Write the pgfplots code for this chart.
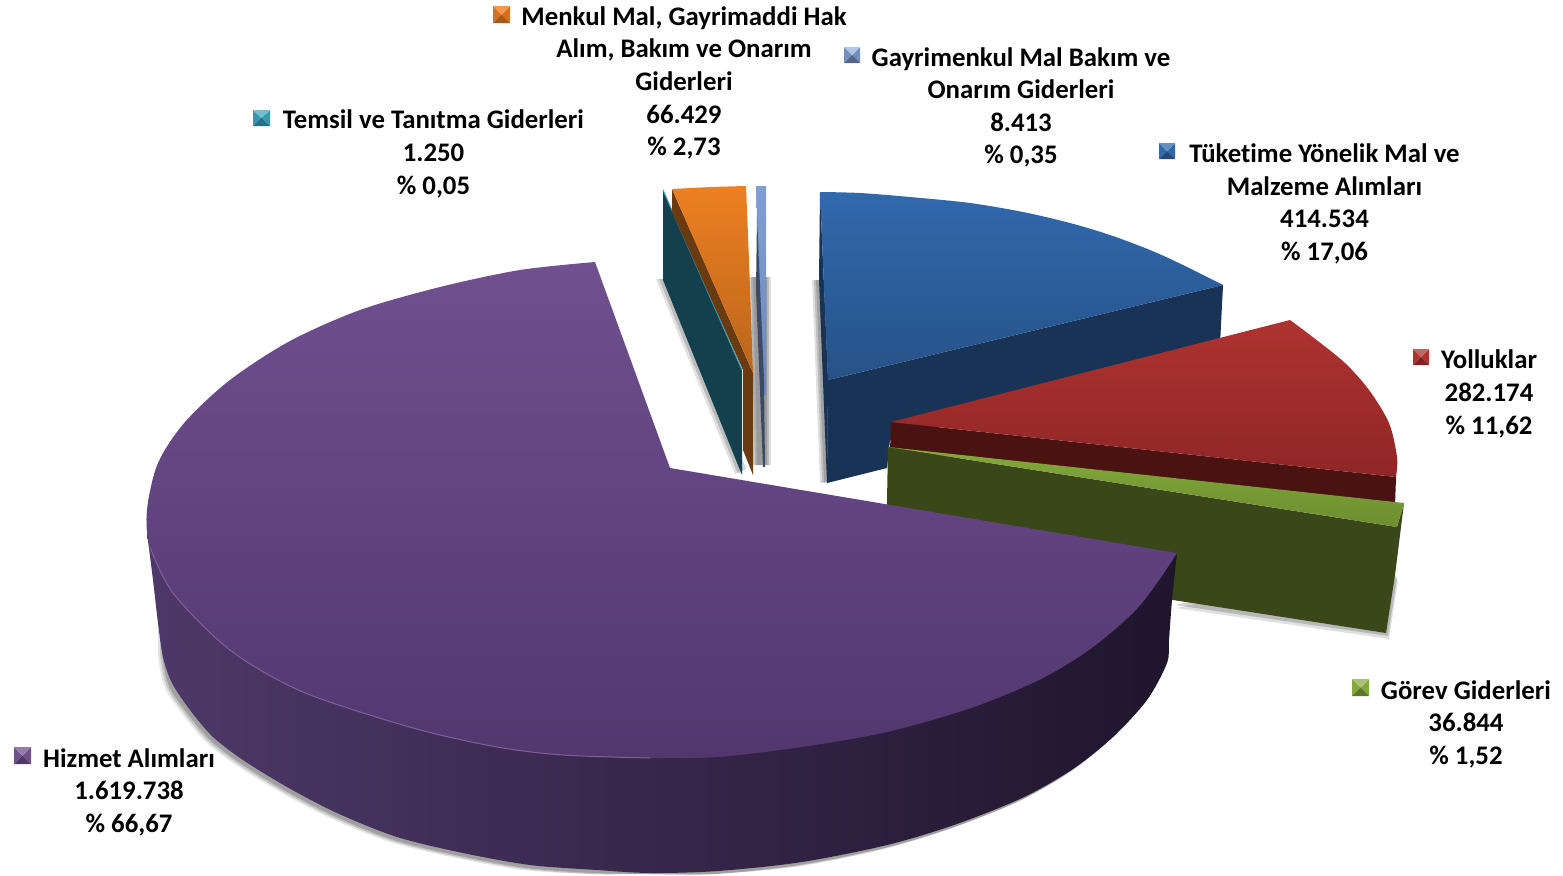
\documentclass[border=0pt]{standalone}
\usepackage{fontspec}
\setmainfont[Ligatures=NoCommon]{Carlito}
\usepackage{pgfplots}
\usepackage{pgfplotstable}
\pgfplotsset{compat=1.18}
\pgfplotstableread{
x y
1177 553
1172 600
1169 640
1167 663
1147 700
1113 737
1073 769
1022 798
954 825
887 845
802 862
718 871
650 873
597 870
530 865
463 853
397 837
337 813
287 787
243 760
213 737
190 710
172 683
163 657
158 623
153 580
147 533
}\purpleside
\pgfplotstableread{
x y
1177 553
1172 600
1169 640
1167 663
1147 700
1113 737
1073 769
1022 798
954 825
887 845
802 862
718 871
650 873
597 870
530 865
463 853
397 837
337 813
287 787
243 760
213 737
190 710
172 683
165 650
166 610
}\purpleshadow
\pgfplotstableread{
x y
595 262
520 270
440 287
360 310
290 341
230 380
185 422
158 463
147 510
150 547
173 593
230 650
303 692
413 728
497 747
563 755
650 758
718 757
802 747
887 732
971 708
1039 680
1089 650
1133 613
1157 583
1177 553
}\purpletop
\pgfplotstableread{
x y
150 547
173 593
230 650
303 692
413 728
497 747
563 755
650 758
}\purplerim
\pgfplotstableread{
x y
1173 602
1386 633
1395 575
1380 560
}\greenshadow
\pgfplotstableread{
x y
819 280
827 483
840 480
840 280
}\blueshadow
\pgfplotstableread{
x y
663 280
742 475
750 470
680 280
}\tealshadow
\pgfplotstableread{
x y
749 277
767 277
767 465
753 465
}\midshadow
\definecolor{purpA}{HTML}{70508F}\definecolor{purpB}{HTML}{52376F}
\definecolor{purpL}{HTML}{4E3869}\definecolor{purpM}{HTML}{2A1C3B}\definecolor{purpR}{HTML}{1F152C}
\definecolor{blueA}{HTML}{3169AD}\definecolor{blueB}{HTML}{265287}\definecolor{blueS}{HTML}{193356}
\definecolor{redA}{HTML}{AE3330}\definecolor{redB}{HTML}{8F2626}\definecolor{redS}{HTML}{4B1212}
\definecolor{grnA}{HTML}{83A93A}\definecolor{grnB}{HTML}{6D8E30}\definecolor{grnS}{HTML}{394719}
\definecolor{orgA}{HTML}{EE7F22}\definecolor{orgB}{HTML}{B9661B}\definecolor{orgS}{HTML}{6A3A10}
\definecolor{tealS}{HTML}{14404E}\definecolor{tealT}{HTML}{3AA0B8}
\definecolor{ltA}{HTML}{7F9FD4}\definecolor{ltB}{HTML}{6C88B8}\definecolor{ltS}{HTML}{3C4A66}
% legend key: x1 xm x2 y1 ym y2 top side bottom
\newcommand\lkey[9]{%
  \addplot[fill=#8,draw=none] coordinates {(#1,#4) (#1,#6) (#2,#5)} --cycle;
  \addplot[fill=#8,draw=none] coordinates {(#3,#4) (#3,#6) (#2,#5)} --cycle;
  \addplot[fill=#7,draw=none] coordinates {(#1,#4) (#3,#4) (#2,#5)} --cycle;
  \addplot[fill=#9,draw=none] coordinates {(#1,#6) (#3,#6) (#2,#5)} --cycle;
}
\newcommand\shadowlayers[4]{%
  \addplot[fill=black,fill opacity=#4,draw=none] table[x expr=\thisrow{x}+#2,y expr=\thisrow{y}+#3] {#1} --cycle;
}
\newcommand\psh[3]{%
  \addplot[smooth,fill=black,fill opacity=#3,draw=none] table[x expr=\thisrow{x}+#1,y expr={min(\thisrow{y}+#2,874)}] {\purpleshadow} --cycle;
}
\newcommand\lab[3]{\node[font=\fontsize{13.4}{16.3}\selectfont\bfseries,align=center,inner sep=0pt,anchor=center] at (axis cs:#1,#2) {#3};}
\begin{document}
\begin{tikzpicture}
\begin{axis}[
  scale only axis, width=781.5pt, height=437pt,
  hide axis, xmin=0, xmax=1563, ymin=0, ymax=874, y dir=reverse, clip=false,
  every axis plot/.append style={no markers, line join=round},
]
% page background fixes the picture's extent
\addplot[fill=white,draw=none] coordinates {(0,0) (1563,0) (1563,874) (0,874)} --cycle;
% shadows
\shadowlayers{\blueshadow}{-7}{0}{0.12}
\shadowlayers{\blueshadow}{-5}{0}{0.14}
\shadowlayers{\blueshadow}{-3}{0}{0.16}
\shadowlayers{\tealshadow}{-7}{-1}{0.12}
\shadowlayers{\tealshadow}{-4}{-1}{0.16}
\shadowlayers{\midshadow}{4}{0}{0.12}
\shadowlayers{\midshadow}{2}{0}{0.16}
\shadowlayers{\midshadow}{0}{0}{0.18}
% blue
\addplot[fill=blueS,draw=none] coordinates {(820,192) (819,280) (827,483) (828,380)} --cycle;
\addplot[fill=blueS,draw=none] coordinates {(828,380) (1223,285) (1220,345) (890,440) (887,468) (827,483)} --cycle;
\addplot[smooth,shade,top color=blueA,bottom color=blueB,draw=none] coordinates {(820,192) (860,193) (910,197) (970,203) (1023,212) (1070,223) (1110,235) (1150,250) (1183,265) (1223,285)} -- (axis cs:828,380) --cycle;
% red
\addplot[fill=redS,draw=none] coordinates {(891,422) (1396,477) (1395,506) (890,450)} --cycle;
\addplot[smooth,shade,top color=redA,bottom color=redB,draw=none] coordinates {(1290,320) (1314,338) (1345,363) (1369,390) (1389,423) (1397,457) (1396,477)} -- (axis cs:891,422) --cycle;
% green
\shadowlayers{\greenshadow}{3}{6}{0.12}
\shadowlayers{\greenshadow}{2}{3}{0.18}
\addplot[fill=grnS,draw=none] coordinates {(888,447) (1397,527) (1404,503) (1395,575) (1386,633) (1173,600) (886,555)} --cycle;
\addplot[shade,top color=grnA,bottom color=grnB,draw=none] coordinates {(888,447) (1404,503) (1397,527)} --cycle;
% teal
\addplot[fill=tealS,draw=none] coordinates {(663,190) (742,370) (742,475) (663,280)} --cycle;
\addplot[tealT,line width=0.5pt] coordinates {(663,190) (742,370)};
% orange
\addplot[fill=orgS,draw=none] coordinates {(672,189) (753,373) (753,475) (743,450) (743,370) (672,212)} --cycle;
\addplot[shade,top color=orgA,bottom color=orgB,draw=none] coordinates {(672,189) (710,187) (746,186) (749,260) (753,373)} --cycle;
% light blue
\addplot[shade,top color=ltA,bottom color=ltB,draw=none] coordinates {(756,186) (766,186) (766,395) (763,395)} --cycle;
\addplot[fill=ltS,draw=none] coordinates {(757,215) (756,290) (763,467) (765,467) (764,380)} --cycle;
% purple
\psh{-7}{5}{0.10}
\psh{-5}{4}{0.14}
\psh{-3}{3}{0.18}
\addplot[smooth,shade,left color=purpL,middle color=purpM,right color=purpR,draw=none] table {\purpleside} --cycle;
\addplot[smooth,shade,top color=purpA,bottom color=purpB,draw=none] table {\purpletop} -- (axis cs:670,468) --cycle;
\addplot[smooth,color=purpA!90!white,line width=0.5pt] table {\purplerim};
% keys
\lkey{493}{501.5}{510}{6}{14.5}{23}{orgA!80!white}{orgA!90!black}{orgA!70!black}
\lkey{844}{852}{860}{47}{55}{63}{ltA!60!white}{ltA!90!black}{ltB!75!black}
\lkey{253}{261.5}{270}{110}{118}{126}{tealT!70!white}{tealT!95!black}{tealT!70!black}
\lkey{1159}{1167}{1175}{143}{151}{159}{blueA!75!white}{blueA}{blueA!70!black}
\lkey{1413}{1421}{1429}{349}{357}{365}{redA!75!white}{redA}{redA!70!black}
\lkey{1352}{1360.5}{1369}{679}{687.5}{696}{grnA!70!white}{grnA}{grnA!70!black}
\lkey{14}{22.5}{31}{747}{755.5}{764}{purpA!75!white}{purpA}{purpA!70!black}
% labels
\lab{684}{83}{Menkul Mal, Gayrimaddi Hak\\Alım, Bakım ve Onarım\\Giderleri\\66.429\\\% 2,73}
\lab{1021}{107.5}{Gayrimenkul Mal Bakım ve\\Onarım Giderleri\\8.413\\\% 0,35}
\lab{433.5}{154}{Temsil ve Tanıtma Giderleri\\1.250\\\% 0,05}
\lab{1324.5}{204}{Tüketime Yönelik Mal ve\\Malzeme Alımları\\414.534\\\% 17,06}
\lab{1489}{394}{Yolluklar\\282.174\\\% 11,62}
\lab{1466}{724}{Görev Giderleri\\36.844\\\% 1,52}
\lab{129}{792}{Hizmet Alımları\\1.619.738\\\% 66,67}
\end{axis}
\end{tikzpicture}
\end{document}
